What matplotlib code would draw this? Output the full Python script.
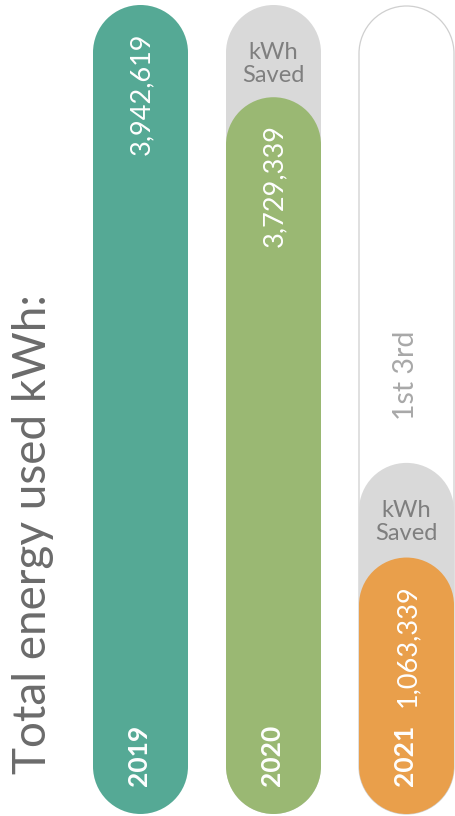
import matplotlib.pyplot as plt
from matplotlib.path import Path
from matplotlib.patches import PathPatch

# data
years = ['2019', '2020', '2021']
used_kwh = [3942619, 3729339, 1063339]
used_labels = ['3,942,619', '3,729,339', '1,063,339']
# column fill levels (fraction of the full column height)
used_level = [1.0, 0.886, 0.317]
saved_level = [None, 1.0, 0.434]
outline_level = [None, None, 1.0]
outline_label = '1st 3rd'
colors = ['#55a995', '#9ab873', '#e99f4b']
saved_color = '#d9d9d9'

W, H = 455, 816
fig = plt.figure(figsize=(W / 100, H / 100), dpi=100)
ax = fig.add_axes([0, 0, 1, 1])

slot = 133.0          # px between bar centres
first_c = 140.5       # px centre of first bar
bottom_px = 814.0     # px of bar bottoms from top
col_px = 809.0        # px for a full column
bar_w = 95.0 / slot
ax.set_xlim(-first_c / slot, (W - first_c) / slot)
ax.set_ylim(-(H - bottom_px) / col_px, bottom_px / col_px)
ax.axis('off')

px = 1.0 / col_px
rx = bar_w / 2
ry = 47.5 * px


def pill(xc, top, face, edge='none', lw=0, z=1):
    # rounded column: half circle on top and at the bottom
    up = Path.arc(0, 180)
    down = Path.arc(180, 360)
    verts = []
    for vx, vy in up.vertices:
        verts.append((xc + vx * rx, top - ry + vy * ry))
    for vx, vy in down.vertices:
        verts.append((xc + vx * rx, ry + vy * ry))
    verts.append(verts[0])
    codes = list(up.codes) + [Path.LINETO] + list(down.codes[1:]) + [Path.CLOSEPOLY]
    ax.add_patch(PathPatch(Path(verts, codes), facecolor=face, edgecolor=edge,
                           linewidth=lw, zorder=z))


font = 'Lato'
for i, yr in enumerate(years):
    if outline_level[i] is not None:
        pill(i, outline_level[i] - 1 * px, 'white', '#cfcfcf', 0.9, 1)
        ax.text(i, outline_level[i] - 370 * px, outline_label, rotation=90,
                ha='center', va='center', color='#a8a8a8', fontsize=20.5,
                family=font)
    if saved_level[i] is not None:
        pill(i, saved_level[i], saved_color, z=2)
        ax.text(i, saved_level[i] - 59 * px, 'kWh\nSaved', ha='center',
                va='center', color='#7f7f7f', fontsize=17, family=font,
                linespacing=1.1)
    pill(i, used_level[i], colors[i], z=3)
    ax.text(i + 0.01, used_level[i] - 27 * px, used_labels[i], rotation=90,
            ha='center', va='top', color='white', fontsize=19.5, family=font,
            zorder=4)
    ax.text(i - 0.01, 28 * px, yr, rotation=90, ha='center', va='bottom',
            color='white', fontsize=19, fontweight='bold', family=font,
            zorder=4)

ax.text(-first_c / slot + 33 / slot, 40 * px, 'Total energy used kWh:',
        rotation=90, ha='center', va='bottom', color='#6b6b6b',
        fontsize=33, family=font)

fig.savefig('out.png', dpi=100)
